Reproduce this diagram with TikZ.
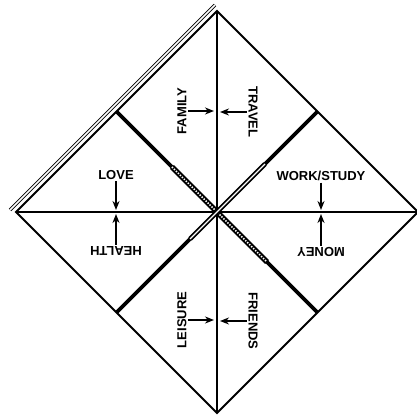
\documentclass[tikz,border=0pt]{standalone}
\usepackage{fontspec}
\setmainfont{Liberation Sans}
\usetikzlibrary{positioning, calc, arrows.meta}

\begin{document}
\begin{tikzpicture}[x=1pt, y=1pt,
    edge/.style={line width=2pt, line join=miter},
    fold/.style={line width=3.6pt},
    lbl/.style={font=\fontsize{13}{15}\selectfont\bfseries, inner sep=1.5pt},
    arr/.style={-{Stealth[length=9pt, width=7pt]}, line width=1.6pt}]

    \useasboundingbox (0,0) rectangle (416,420);

    % Corners of the outer square
    \coordinate (top) at (217,409);
    \coordinate (right) at (418,208);
    \coordinate (bottom) at (217,7);
    \coordinate (left) at (16,208);
    \coordinate (mid) at (217,208);

    % Midpoints of the outer edges
    \coordinate (ul) at ($(top)!0.5!(left)$);
    \coordinate (ur) at ($(top)!0.5!(right)$);
    \coordinate (lr) at ($(bottom)!0.5!(right)$);
    \coordinate (ll) at ($(bottom)!0.5!(left)$);

    % Folded edge on the upper left
    \coordinate (dblA) at (10,210);
    \coordinate (dblB) at (215,415);
    \draw[double, double distance=1.6pt, line width=0.8pt] (dblA) -- (dblB);

    % Outer square
    \draw[edge] (top) -- (right) -- (bottom) -- (left) -- cycle;

    % Middle crease lines
    \draw[edge] (top) -- (bottom);
    \draw[edge] (left) -- (right);

    % Diagonal folds
    \draw[fold] (ul) -- (lr);
    \draw[fold] (ur) -- (ll);
    \coordinate (dotA) at (172,253);
    \coordinate (dotB) at (267,158);
    \draw[line width=5.5pt] (dotA) -- (dotB);
    \draw[white, line width=1.6pt, dash pattern=on 1.4pt off 1.4pt] (dotA) -- (dotB);
    \coordinate (slitA) at (265,256);
    \coordinate (slitB) at (190,181);
    \draw[line width=4.8pt] (slitA) -- (slitB);
    \draw[white, line width=1.1pt] (slitA) -- (slitB);

    % Labels of the upper flap
    \node[lbl, rotate=90] (family) at (182,309) {FAMILY};
    \node[lbl, rotate=-90] (travel) at (253,308) {TRAVEL};
    \coordinate (familyend) at (214,309);
    \coordinate (travelend) at (220,308);
    \draw[arr] (family.south) -- (familyend);
    \draw[arr] (travel.south) -- (travelend);

    % Labels of the left flap
    \node[lbl] (love) at (116,245) {LOVE};
    \node[lbl, rotate=180] (health) at (116,169) {HEALTH};
    \coordinate (loveend) at (116,210);
    \coordinate (healthend) at (116,206);
    \draw[arr] (love.south) -- (loveend);
    \draw[arr] (health.south) -- (healthend);

    % Labels of the right flap
    \node[lbl] (work) at (321,244) {WORK/STUDY};
    \node[lbl, rotate=180] (money) at (321,168) {MONEY};
    \coordinate (workend) at (321,210);
    \coordinate (moneyend) at (321,206);
    \draw[arr] (work.south) -- (workend);
    \draw[arr] (money.south) -- (moneyend);

    % Labels of the lower flap
    \node[lbl, rotate=90] (leisure) at (182,100) {LEISURE};
    \node[lbl, rotate=-90] (friends) at (253,99) {FRIENDS};
    \coordinate (leisureend) at (214,100);
    \coordinate (friendsend) at (220,99);
    \draw[arr] (leisure.south) -- (leisureend);
    \draw[arr] (friends.south) -- (friendsend);

\end{tikzpicture}
\end{document}
